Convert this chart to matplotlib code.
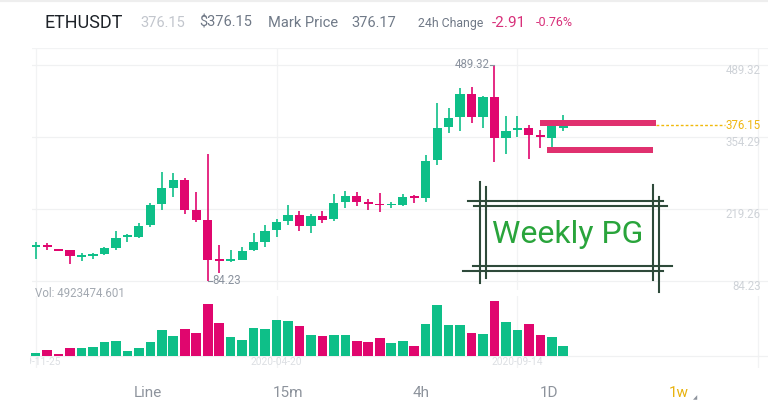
import numpy as np
import matplotlib
matplotlib.use('agg')
import matplotlib.pyplot as plt
import matplotlib.transforms as mtransforms

plt.rcParams['font.family'] = ['Roboto', 'DejaVu Sans']

# weekly ETHUSDT candles, 2019-11-25 .. 2020-10-12
opens = [148.0, 149.5, 142.6, 141.8, 129.3, 132.0, 135.4, 146.7, 167.3, 167.3,
         188.7, 228.6, 258.7, 274.4, 217.4, 198.6, 123.5, 122.0, 123.6, 142.4,
         158.0, 179.9, 197.3, 208.5, 187.4, 205.6, 199.9, 231.8, 243.6, 231.0,
         228.0, 226.0, 226.8, 241.5, 239.3, 311.2, 373.6, 391.2, 434.4, 391.2,
         429.3, 353.0, 367.5, 370.6, 358.0, 353.0, 372.0]
highs = [157.4, 155.5, 143.0, 142.6, 136.7, 137.3, 147.4, 178.6, 172.4, 192.4,
         229.9, 288.1, 286.2, 276.5, 250.6, 322.5, 151.7, 142.4, 147.4, 174.8,
         189.2, 199.9, 226.8, 216.1, 209.9, 216.1, 247.4, 253.6, 250.6, 237.4,
         248.7, 233.0, 247.4, 245.5, 320.5, 417.5, 408.1, 445.6, 448.6, 431.2,
         489.32, 392.9, 394.4, 376.8, 367.4, 378.0, 395.5]
lows = [125.5, 142.4, 141.0, 115.5, 122.3, 126.0, 133.0, 142.4, 158.0, 164.9,
        184.9, 217.4, 242.3, 209.9, 195.4, 84.23, 99.8, 119.3, 123.0, 141.4,
        147.4, 166.2, 189.2, 178.0, 174.8, 192.4, 196.2, 220.6, 225.4, 217.4,
        213.1, 221.7, 225.0, 230.0, 233.0, 301.8, 361.2, 365.5, 380.0, 370.6,
        308.0, 322.4, 354.8, 312.5, 334.2, 336.1, 365.5]
closes = [149.2, 148.0, 141.4, 131.7, 130.4, 133.0, 145.6, 165.4, 168.6, 187.4,
          227.3, 258.1, 273.1, 217.4, 198.6, 123.6, 122.2, 123.0, 141.1, 157.4,
          178.6, 195.4, 208.5, 187.4, 205.6, 198.6, 229.9, 243.6, 231.8, 229.0,
          226.0, 227.5, 241.2, 239.8, 309.3, 371.7, 390.5, 434.4, 391.2, 429.3,
          353.0, 365.5, 370.0, 358.0, 355.0, 374.5, 376.15]
# volume in millions of ETH
volumes = [1.17, 2.89, 0.66, 3.71, 3.91, 4.42, 6.75, 7.46, 2.54, 4.06,
           6.75, 12.84, 10.15, 13.55, 11.67, 26.04, 16.40, 9.49, 8.12, 14.06,
           13.71, 18.12, 17.61, 15.08, 10.66, 10.15, 10.51, 10.66, 7.46, 6.95,
           8.78, 6.24, 7.46, 5.08, 16.09, 25.74, 15.58, 15.58, 11.67, 10.81,
           27.92, 16.90, 13.05, 15.89, 10.51, 9.29, 4.92]

price_levels = [84.23, 219.26, 354.29, 489.32]
date_labels = ['2019-11-25', '2020-04-20', '2020-09-14']
date_pos = [0, 21, 42]
last_price = 376.15

# hand drawn marks on the screenshot (candle index, price)
zone_top = [44.0, 54.1, 374.0, 386.1]
zone_bottom = [44.6, 53.8, 323.7, 334.9]
box_v = [(38.75, 79.9, 270.5), (39.27, 89.3, 261.1), (53.79, 86.1, 264.3), (54.32, 64.2, 242.3)]
box_h = [(234.3, 37.72, 54.66), (224.9, 38.21, 55.07), (112.9, 38.10, 55.45), (103.0, 37.28, 54.66)]

GREEN = '#0ebf88'
PINK = '#e0066e'
W, H = 768, 415

def fx(x):
    return x / W

def fy(y):
    return 1 - y / H

fig = plt.figure(figsize=(7.68, 4.15), dpi=100)
fig.patch.set_facecolor('white')

ax = fig.add_axes([fx(32), fy(290), fx(768) - fx(32), fy(48) - fy(290)])
axv = fig.add_axes([fx(30), fy(368), fx(768) - fx(30), fy(296) - fy(368)])

x = np.arange(len(opens))
o = np.array(opens); c = np.array(closes)
up = c >= o
cols = [GREEN if u else PINK for u in up]

for a in (ax, axv):
    a.set_facecolor('none')
    for s in a.spines.values():
        s.set_visible(False)
    a.set_xticks([])
    a.set_yticks([])
    for g in [0, 21, 42, 63]:
        a.axvline(g, color='#f2f3f4', lw=0.9, zorder=0)

ax.set_xlim(-0.32, 63.85)
ax.set_ylim(67.35, 521.2)
ax.axhline(521.0, color='#f2f3f4', lw=0.9, zorder=0)
for p in price_levels:
    ax.axhline(p, color='#f0f1f2', lw=0.9, zorder=0)

# candles
ax.vlines(x, lows, highs, colors=cols, lw=1.2, zorder=2)
body = np.maximum(np.abs(c - o), 3.0)
ax.bar(x, body, bottom=np.minimum(o, c), width=0.8, color=cols, zorder=3)

# right price labels, sitting just under their grid lines
lab_off = mtransforms.offset_copy(ax.transData, fig=fig, x=0, y=-4.3, units='points')
for p in price_levels:
    ax.text(63.24, p, '%.2f' % p, ha='right', va='center', fontsize=8.3,
            color='#cfd3d8', transform=lab_off, clip_on=False)

# last price line
ax.plot([54.1, 60.1], [last_price, last_price], color='#f0b90b', lw=1.0,
        ls=(0, (2, 1.5)), zorder=4)
ax.text(63.24, last_price, '%.2f' % last_price, ha='right', va='center',
        fontsize=8.3, color='#efb60f')

# high / low markers
ax.plot([39.6, 40.0], [489.32, 489.32], color='#8a929e', lw=0.8)
ax.text(39.55, 489.32, '489.32', ha='right', va='center', fontsize=8.3, color='#8a929e')
ax.plot([15.0, 15.35], [84.23, 84.23], color='#8a929e', lw=0.8)
ax.text(15.4, 84.23, '84.23', ha='left', va='center', fontsize=8.3, color='#8a929e')

# pink zones
for z in (zone_top, zone_bottom):
    ax.fill_between([z[0], z[1]], z[2], z[3], color='#e0316f', lw=0, zorder=5)

# Weekly PG box
for bx, y0, y1 in box_v:
    ax.plot([bx, bx], [y0, y1], color='#2e4a3a', lw=1.5, clip_on=False, zorder=5)
for by, x0, x1 in box_h:
    ax.plot([x0, x1], [by, by], color='#2e4a3a', lw=1.5, clip_on=False, zorder=5)
ax.text(46.36, 170.5, 'Weekly PG', ha='center', va='center', fontsize=23,
        color='#29a43b', zorder=6)

# volume
axv.set_xlim(-0.32 + (30 - 32) / 11.47, 63.85)
axv.set_ylim(-6.24, 30.3)
axv.axhline(0, color='#f0f1f2', lw=0.9, zorder=0)
axv.bar(x, volumes, width=0.84, color=cols, zorder=2)
for pos, lab in zip(date_pos, date_labels):
    axv.text(pos, -3.0, lab, ha='center', va='center', fontsize=7.3,
             color='#dcdfe3', clip_on=True)
fig.text(fx(35), fy(293), 'Vol: %.3f' % (4923474.601), ha='left', va='center',
         fontsize=8.3, color='#a3a9b1')

# header
fig.add_artist(plt.Line2D([0, 1], [fy(0.8), fy(0.8)], color='#eeeeee', lw=1.6))
hy = fy(23)
fig.text(fx(45), hy, 'ETHUSDT', fontsize=13, color='#1e2329', va='center')
fig.text(fx(140), hy, '376.15', fontsize=10.5, color='#c2c6cd', va='center')
fig.text(fx(199), hy, '$376.15', fontsize=10.5, color='#6f7886', va='center')
fig.text(fx(268), hy, 'Mark Price', fontsize=10.5, color='#707a88', va='center')
fig.text(fx(351), hy, '376.17', fontsize=10.5, color='#707a88', va='center')
fig.text(fx(418), hy, '24h Change', fontsize=8.8, color='#6f7886', va='center')
fig.text(fx(492), hy, '-2.91', fontsize=11, color='#d8307a', va='center')
fig.text(fx(536), hy, '-0.76%', fontsize=9, color='#d8307a', va='center')

# bottom tabs
tabs = ['Line', '15m', '4h', '1D', '1w']
tab_x = [148, 288, 421, 549, 679]
for t, tx in zip(tabs, tab_x):
    fig.text(fx(tx), fy(393), t, ha='center', va='center', fontsize=11,
             color='#e8b20e' if t == '1w' else '#8d939c')
fig.text(fx(695), fy(398), '\u25e2', ha='center', va='center', fontsize=4,
         color='#8d939c', family='DejaVu Sans')

fig.savefig('out.png', dpi=100)
